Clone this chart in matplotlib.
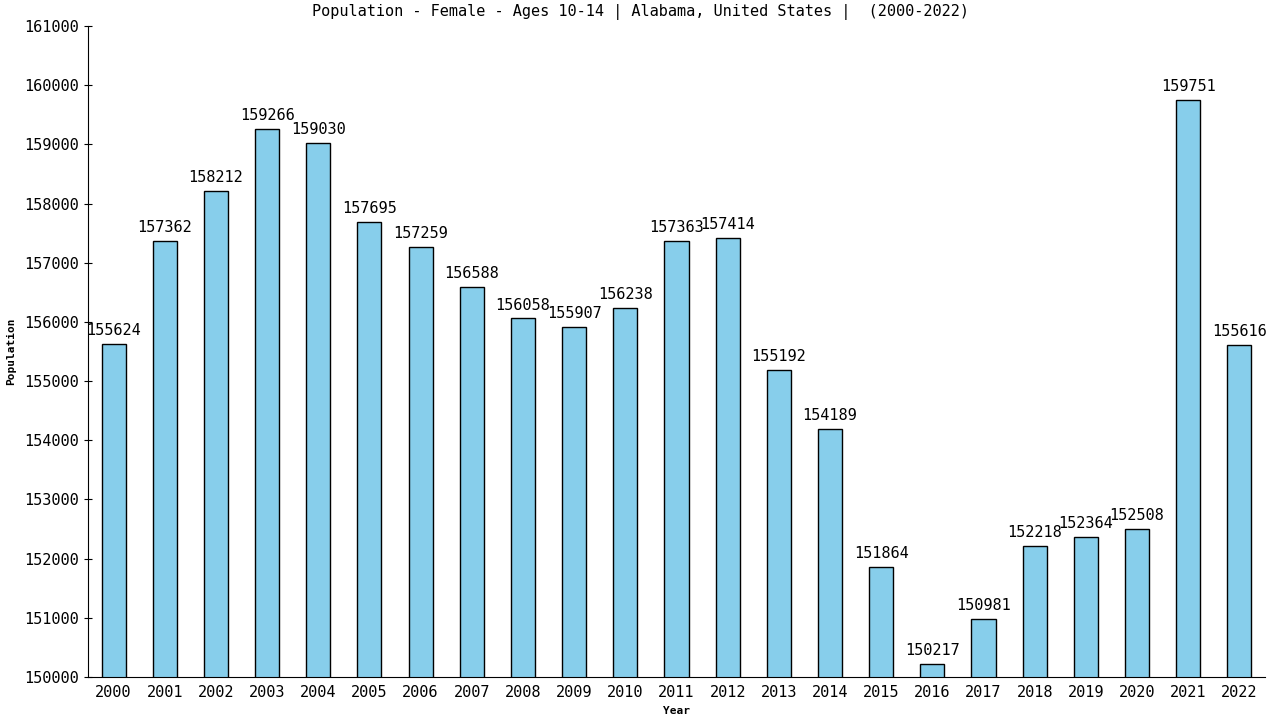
import matplotlib
matplotlib.use("Agg")
import matplotlib.pyplot as plt

years = [str(y) for y in range(2000, 2023)]
population = [155624, 157362, 158212, 159266, 159030, 157695, 157259, 156588,
              156058, 155907, 156238, 157363, 157414, 155192, 154189, 151864,
              150217, 150981, 152218, 152364, 152508, 159751, 155616]
yticks = list(range(150000, 161001, 1000))

plt.rcParams['font.family'] = ['DejaVu Sans Mono']

fig = plt.figure(figsize=(12.8, 7.2), dpi=100)
ax = fig.add_axes([0.06875, 0.0597, 0.9195, 0.9042])

x = list(range(len(years)))
ax.bar(x, population, width=0.47, color='#87CEEB', edgecolor='black', linewidth=1)

# value labels
for i in range(len(population)):
    ax.text(i, population[i] + 100, str(population[i]), ha='center', va='bottom', fontsize=11)

ax.set_xlim(-0.5, len(years) - 0.5)
ax.set_ylim(150000, 161000)
ax.set_yticks(yticks)
ax.set_yticklabels([str(t) for t in yticks], fontsize=11)
ax.set_xticks(x)
ax.set_xticklabels(years, fontsize=11)
ax.tick_params(axis='x', length=0, pad=6)
ax.tick_params(axis='y', length=6, direction='inout')

ax.spines['top'].set_visible(False)
ax.spines['right'].set_visible(False)

ax.set_xlabel('Year', fontsize=8, fontweight='bold', labelpad=4)
ax.set_ylabel('Population', fontsize=8, fontweight='bold', labelpad=6)
fig.suptitle('Population - Female - Ages 10-14 | Alabama, United States |  (2000-2022)',
             fontsize=11, x=0.5, y=0.995, va='top')

fig.savefig('out.png', dpi=100)
